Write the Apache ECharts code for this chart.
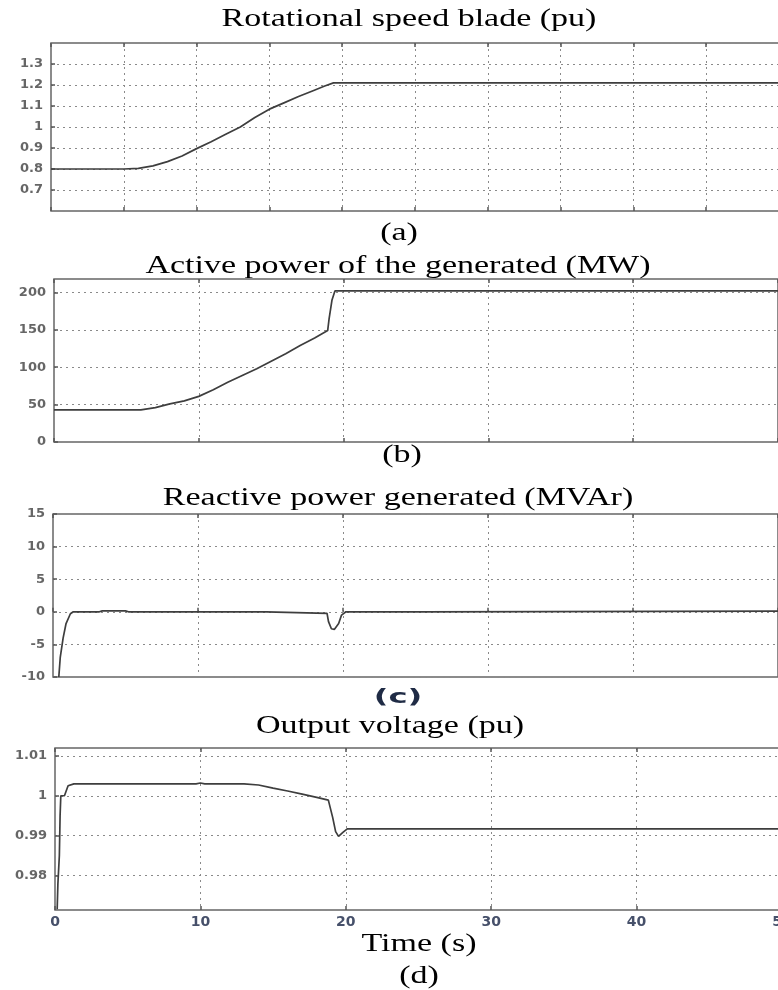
<!DOCTYPE html>
<html>
<head>
<meta charset="utf-8">
<script src="https://cdn.jsdelivr.net/npm/echarts@6/dist/echarts.min.js"></script>
<style>html,body{margin:0;padding:0;background:#fff}#c{width:778px;height:990px}</style>
</head>
<body>
<div id="c"></div>
<script>
// ---- Data (time in s) ----
const tA = [0, 5, 6, 7, 8, 9, 10, 11, 12, 13, 14, 15, 16, 17, 18, 18.8, 19.4, 50];
const vA = [0.8, 0.8, 0.803, 0.815, 0.835, 0.862, 0.897, 0.93, 0.965, 1.0, 1.045, 1.085, 1.115, 1.145, 1.173, 1.195, 1.21, 1.21];

const tB = [0, 6, 7, 8, 9, 10, 11, 12, 13, 14, 15, 16, 17, 18, 18.9, 19.0, 19.2, 19.4, 50];
const vB = [43, 43, 46, 51, 55, 61, 70, 80, 89, 98, 108, 118, 129, 139, 149, 165, 190, 202, 202];

const tC = [0.4, 0.5, 0.7, 0.9, 1.2, 1.4, 3.2, 3.4, 5, 5.2, 14.7, 14.8, 18.9, 19.0, 19.2, 19.4, 19.7, 19.9, 20.2, 25.5, 25.6, 50];
const vC = [-10, -7, -4, -1.8, -0.3, 0, 0, 0.15, 0.15, 0, 0, -0.25, -0.25, -1.5, -2.6, -2.7, -1.8, -0.5, 0, 0, 0.1, 0.1];

const tD = [0.15, 0.2, 0.3, 0.35, 0.4, 0.65, 0.75, 0.9, 1.3, 9.7, 10, 10.3, 13, 14, 15, 16, 17, 18, 18.8, 19.1, 19.3, 19.5, 19.8, 20.1, 50];
const vD = [0.9715, 0.978, 0.985, 0.995, 1.0, 1.0, 1.001, 1.0025, 1.003, 1.003, 1.0032, 1.003, 1.003, 1.0027, 1.0019, 1.0012, 1.0004, 0.9996, 0.9989, 0.9945, 0.991, 0.9898, 0.9908, 0.9917, 0.9917];

const titles = ['Rotational speed blade (pu)', 'Active power of the generated (MW)', 'Reactive power generated (MVAr)', 'Output voltage (pu)'];
const panelLabels = ['(a)', '(b)', '(c)', '(d)'];
const xTitle = 'Time (s)';

// ---- Layout ----
const grids = [
  {left: 51, top: 43, width: 728, height: 168},
  {left: 54, top: 279, width: 724, height: 163},
  {left: 53, top: 514, width: 725, height: 163},
  {left: 55, top: 748, width: 727, height: 162}
];
const xIntervals = [5, 10, 10, 10];
const yCfg = [
  {min: 0.6, max: 1.4, interval: 0.1, hideMin: true, hideMax: true},
  {min: 0, max: 218, interval: 50, hideMin: false, hideMax: true},
  {min: -10, max: 15, interval: 5, hideMin: false, hideMax: false},
  {min: 0.9713, max: 1.012, splitNumber: 4, hideMin: true, hideMax: true}
];
const pairs = [[tA, vA], [tB, vB], [tC, vC], [tD, vD]];

const gridLine = {show: true, lineStyle: {color: '#8a8a8a', width: 1, type: [2, 4]}};
const tick = {show: true, inside: true, length: 4, lineStyle: {color: '#555', width: 1.5}};

const xAxes = [], yAxes = [], series = [];
grids.forEach((g, i) => {
  xAxes.push({
    type: 'value', gridIndex: i, min: 0, max: 50, interval: xIntervals[i],
    axisLine: {show: false}, axisTick: tick, splitLine: gridLine,
    axisLabel: {show: i === 3, color: '#46506a', fontFamily: 'DejaVu Sans', fontWeight: 'bold', fontSize: 14, margin: 5}
  });
  xAxes.push({
    type: 'value', gridIndex: i, position: 'top', min: 0, max: 50, interval: xIntervals[i],
    axisLine: {show: false}, axisTick: tick, splitLine: {show: false}, axisLabel: {show: false}
  });
  const yc = yCfg[i];
  const y = {
    type: 'value', gridIndex: i, min: yc.min, max: yc.max,
    axisLine: {show: false}, axisTick: tick, splitLine: gridLine,
    axisLabel: {color: '#666', fontFamily: 'DejaVu Sans', fontWeight: 'bold', fontSize: 13, margin: 8,
      showMinLabel: !yc.hideMin, showMaxLabel: !yc.hideMax}
  };
  if (yc.interval) y.interval = yc.interval; else y.splitNumber = yc.splitNumber;
  yAxes.push(y);
  const [tt, vv] = pairs[i];
  series.push({
    type: 'line', xAxisIndex: i * 2, yAxisIndex: i, showSymbol: false, animation: false,
    data: tt.map((t, k) => [t, vv[k]]),
    lineStyle: {color: '#3e3e3e', width: 1.7}
  });
});

function serifText(text, cx, cy, size, sx) {
  return {type: 'text', x: cx, y: cy, scaleX: sx, z: 10,
    style: {text: text, x: 0, y: 0, fill: '#000', fontSize: size, fontFamily: '"Liberation Serif", "Times New Roman", serif',
      textAlign: 'center', textVerticalAlign: 'middle'}};
}

const graphics = [
  serifText(titles[0], 409, 19, 25, 1.36),
  serifText(titles[1], 398, 266, 25, 1.36),
  serifText(titles[2], 398, 498, 25, 1.36),
  serifText(titles[3], 390, 726, 25, 1.36),
  serifText(xTitle, 419, 944, 25, 1.36),
  serifText(panelLabels[0], 399, 233, 25, 1.36),
  serifText(panelLabels[1], 402, 455, 25, 1.36),
  serifText(panelLabels[3], 419, 976, 25, 1.36),
  {type: 'text', x: 398, y: 698, scaleX: 1.7, z: 10,
    style: {text: panelLabels[2], x: 0, y: 0, fill: '#1f2b45', fontSize: 19, fontFamily: 'DejaVu Sans', fontWeight: 'bold',
      textAlign: 'center', textVerticalAlign: 'middle'}}
];

const chart = echarts.init(document.getElementById('c'), null, {renderer: 'canvas'});
chart.setOption({
  backgroundColor: '#fff',
  animation: false,
  grid: grids.map(g => Object.assign({show: true, borderColor: '#666', borderWidth: 1.5, backgroundColor: 'transparent',
    containLabel: false, outerBoundsMode: 'none'}, g)),
  xAxis: xAxes,
  yAxis: yAxes,
  series: series,
  graphic: graphics
});
</script>
</body>
</html>
